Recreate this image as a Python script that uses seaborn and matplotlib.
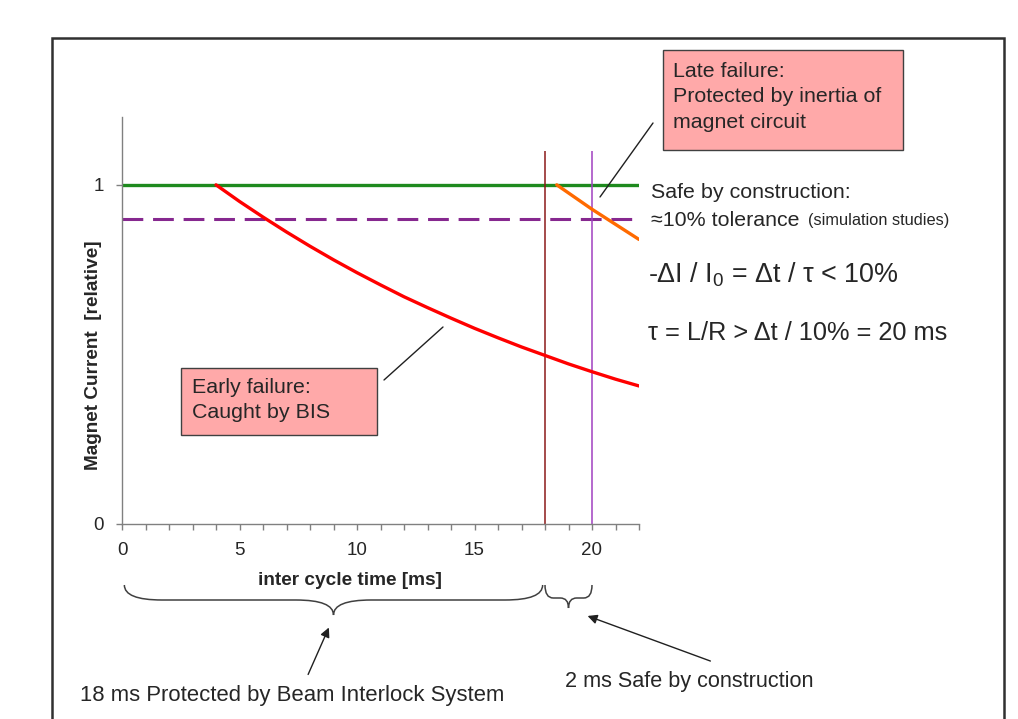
import matplotlib
matplotlib.use("Agg")
import matplotlib.pyplot as plt
import seaborn as sns
from matplotlib.patches import Rectangle, PathPatch
from matplotlib.path import Path
from matplotlib.lines import Line2D
from matplotlib.ticker import MultipleLocator

W, H = 1018, 719

# current decay after an early failure
early_t = [4, 5, 6, 7, 8, 9, 10, 11, 12, 13, 14, 15, 16, 17, 18, 19, 20, 21, 22]
early_i = [1.0, 0.951, 0.905, 0.861, 0.819, 0.779, 0.741, 0.705, 0.670, 0.638,
           0.607, 0.577, 0.549, 0.522, 0.497, 0.472, 0.449, 0.427, 0.407]
# late failure (orange)
late_t = [18.5, 20, 22]
late_i = [1.0, 0.928, 0.839]
# nominal current and tolerance
nominal_t = [0, 22]
nominal_i = [1.0, 1.0]
tol_i = [0.9, 0.9]
# end of BIS protection and end of cycle gap
bis_end = 18
cycle_end = 20
marker_top = 1.1

xticks = [0, 5, 10, 15, 20]
yticks = [0, 1]

sns.set_style("white")
plt.rcParams['font.family'] = ['Liberation Sans', 'DejaVu Sans']
plt.rcParams['mathtext.fontset'] = 'custom'
plt.rcParams['mathtext.rm'] = 'Liberation Sans'
plt.rcParams['mathtext.it'] = 'Liberation Sans'


def fxy(px, py):
    return px / W, 1 - py / H


fig = plt.figure(figsize=(W / 100, H / 100), dpi=100)
ax = fig.add_axes([122 / W, 1 - 524 / H, 517 / W, 407 / H])

sns.lineplot(x=nominal_t, y=tol_i, ax=ax, color='#86288F', lw=2.2,
             dashes=False, linestyle=(0, (6.8, 3.2)))
sns.lineplot(x=nominal_t, y=nominal_i, ax=ax, color='#1E8A1E', lw=2.4)
ax.vlines([bis_end], 0, marker_top, color='#8B1A1A', lw=1.1)
ax.vlines([cycle_end], 0, marker_top, color='#A040C0', lw=1.1)
sns.lineplot(x=early_t, y=early_i, ax=ax, color='#FF0000', lw=2.4)
sns.lineplot(x=late_t, y=late_i, ax=ax, color='#FF6A00', lw=2.4)

ax.set_xlim(0, 22)
ax.set_ylim(0, 1.2)
ax.set_xticks(xticks)
ax.xaxis.set_minor_locator(MultipleLocator(1))
ax.set_yticks(yticks)
ax.set_yticklabels([str(v) for v in yticks])
for s in ['top', 'right']:
    ax.spines[s].set_visible(False)
for s in ['left', 'bottom']:
    ax.spines[s].set_color('#808080')
    ax.spines[s].set_linewidth(1)
ax.tick_params(axis='both', which='both', direction='out', length=4,
               width=1, color='#808080', labelsize=13.5, pad=9, bottom=True, left=True)
ax.tick_params(axis='x', which='minor', length=4)

ax.set_xlabel('inter cycle time [ms]', fontsize=13.7, fontweight='bold', va='center')
ax.xaxis.set_label_coords(0.441, -0.138)
ax.set_ylabel('Magnet Current  [relative]', fontsize=13.7, fontweight='bold', va='center')
ax.yaxis.set_label_coords(-0.056, 0.415)

# outer frame
fig.patches.append(Rectangle(fxy(52, 760), 952 / W, 722 / H, transform=fig.transFigure,
                             fill=False, edgecolor='#303030', lw=1.8, clip_on=False))

# annotation boxes
pink = '#FFA9A9'
fig.patches.append(Rectangle(fxy(663, 150), 240 / W, 100 / H, transform=fig.transFigure,
                             facecolor=pink, edgecolor='#404040', lw=1.0))
fig.text(*fxy(673, 62), 'Late failure:\nProtected by inertia of\nmagnet circuit',
         fontsize=15.4, va='top', ha='left', linespacing=1.42)
fig.patches.append(Rectangle(fxy(181, 435), 196 / W, 67 / H, transform=fig.transFigure,
                             facecolor=pink, edgecolor='#404040', lw=1.0))
fig.text(*fxy(192, 378), 'Early failure:\nCaught by BIS',
         fontsize=15.4, va='top', ha='left', linespacing=1.42)

for (x0, y0), (x1, y1) in [((653, 123), (600, 197)), ((384, 380), (443, 327))]:
    a, b = fxy(x0, y0)
    c, d = fxy(x1, y1)
    fig.add_artist(Line2D([a, c], [b, d], color='#202020', lw=1.0))

# right hand notes
fig.text(*fxy(651, 193), 'Safe by construction:', fontsize=15.4, va='center')
fig.text(*fxy(651, 220), '≈10% tolerance', fontsize=15.4, va='center')
fig.text(*fxy(808, 221), '(simulation studies)', fontsize=11.8, va='center')
fig.text(*fxy(648, 275), r'-ΔI / I$_0$ = Δt / τ < 10%', fontsize=19.4, va='center')
fig.text(*fxy(648, 333), 'τ = L/R > Δt / 10% = 20 ms', fontsize=18.3, va='center')


# braces under the x axis
def brace(x0, x1, ytop, ymid, ytip, dx):
    xm = (x0 + x1) / 2
    verts = [(x0, ytop), (x0, ymid), (x0 + dx, ymid),
             (xm - dx, ymid), (xm, ymid), (xm, ytip),
             (xm, ymid), (xm + dx, ymid),
             (x1 - dx, ymid), (x1, ymid), (x1, ytop)]
    codes = [Path.MOVETO, Path.CURVE3, Path.CURVE3,
             Path.LINETO, Path.CURVE3, Path.CURVE3,
             Path.CURVE3, Path.CURVE3,
             Path.LINETO, Path.CURVE3, Path.CURVE3]
    p = PathPatch(Path(verts, codes), transform=ax.get_xaxis_transform(),
                  fill=False, edgecolor='#404040', lw=1.1, clip_on=False)
    ax.add_patch(p)


def yf(py):
    return (524 - py) / 407


brace(0.1, bis_end - 0.1, yf(585), yf(600), yf(615), 1.6)
brace(bis_end, cycle_end, yf(585), yf(598), yf(608), 0.35)

ax.annotate('', xy=fxy(330, 625), xytext=fxy(307, 677), xycoords='figure fraction',
            textcoords='figure fraction',
            arrowprops=dict(arrowstyle='-|>', color='#202020', lw=1.0, mutation_scale=14))
ax.annotate('', xy=fxy(585, 615), xytext=fxy(713, 662), xycoords='figure fraction',
            textcoords='figure fraction',
            arrowprops=dict(arrowstyle='-|>', color='#202020', lw=1.0, mutation_scale=14))

fig.text(*fxy(80, 695), '18 ms Protected by Beam Interlock System', fontsize=15.9, va='center')
fig.text(*fxy(565, 681), '2 ms Safe by construction', fontsize=15.6, va='center')

fig.savefig('out.png', dpi=100)
